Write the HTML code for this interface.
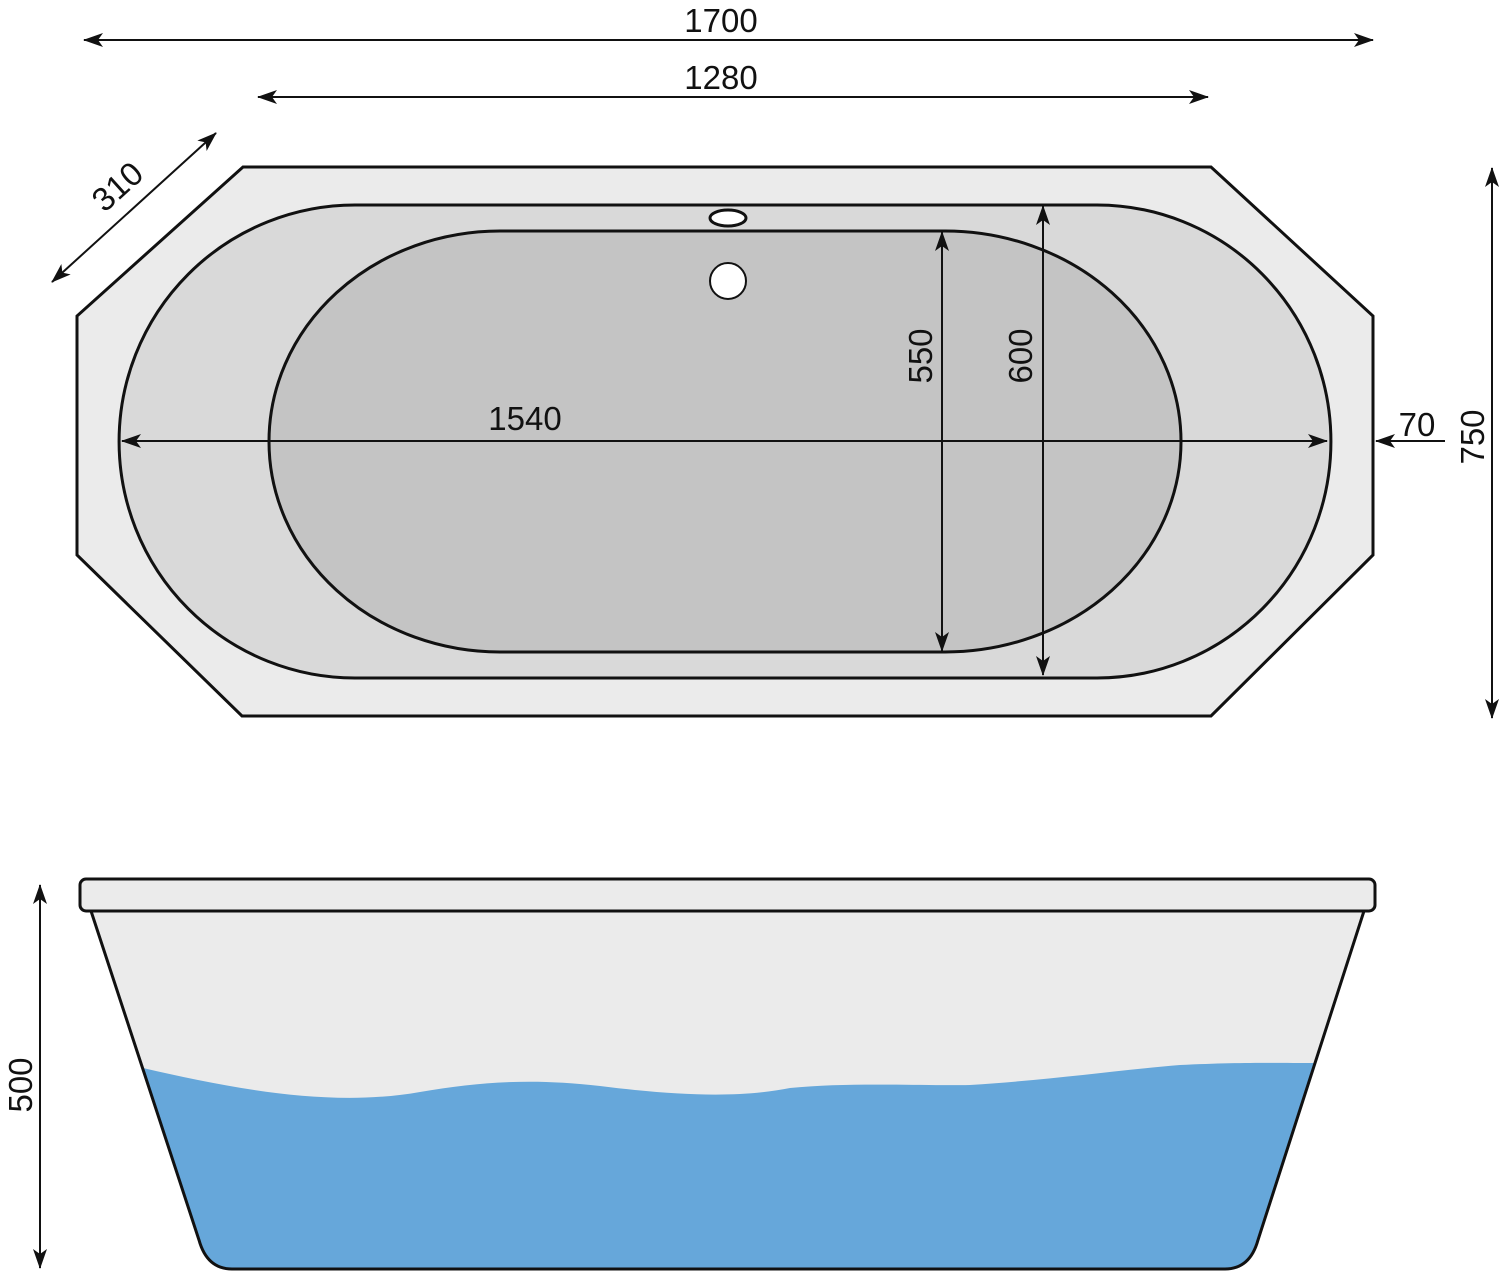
<!DOCTYPE html>
<html><head><style>html,body{margin:0;padding:0;background:#fff}svg{display:block}text{font-family:"Liberation Sans",sans-serif;font-size:33px;fill:#111}</style></head><body>
<svg width="1500" height="1271" viewBox="0 0 1500 1271" xmlns="http://www.w3.org/2000/svg">
<defs><marker id="a" viewBox="0 0 20 14" refX="19" refY="7" markerWidth="20" markerHeight="14" markerUnits="userSpaceOnUse" orient="auto-start-reverse"><path d="M0,0 L20,7 L0,14 L5,7 Z" fill="#111"/></marker></defs>
<g stroke="#111" stroke-width="3">
<polygon points="243,167 1211,167 1373,316 1373,555 1211,716 242,716 77,555 77,316" fill="#ebebeb"/>
<path d="M355,205 L1097,205 A234,236.5 0 0 1 1097,678 L355,678 A236,236.5 0 0 1 355,205 Z" fill="#d9d9d9"/>
<path d="M500,231 L945,231 A236,210.5 0 0 1 945,652 L500,652 A231,210.5 0 0 1 500,231 Z" fill="#c4c4c4"/>
<ellipse cx="728" cy="218" rx="18" ry="8" fill="#fff"/>
<circle cx="728" cy="281" r="18" fill="#fff" stroke-width="2"/>
</g>
<g stroke="#111" stroke-width="2" fill="none">
<line x1="84" y1="40" x2="1373" y2="40" marker-start="url(#a)" marker-end="url(#a)"/>
<line x1="258" y1="97" x2="1208" y2="97" marker-start="url(#a)" marker-end="url(#a)"/>
<line x1="52" y1="282" x2="216" y2="133" marker-start="url(#a)" marker-end="url(#a)"/>
<line x1="122" y1="441" x2="1327" y2="441" marker-start="url(#a)" marker-end="url(#a)"/>
<line x1="942" y1="232" x2="942" y2="651" marker-start="url(#a)" marker-end="url(#a)"/>
<line x1="1043" y1="206" x2="1043" y2="675" marker-start="url(#a)" marker-end="url(#a)"/>
<line x1="1492" y1="168" x2="1492" y2="718" marker-start="url(#a)" marker-end="url(#a)"/>
<line x1="1445" y1="441" x2="1376" y2="441" marker-end="url(#a)"/>
<line x1="40" y1="885" x2="40" y2="1268" marker-start="url(#a)" marker-end="url(#a)"/>
</g>
<text x="721" y="32" text-anchor="middle">1700</text>
<text x="721" y="89" text-anchor="middle">1280</text>
<text x="525" y="430" text-anchor="middle">1540</text>
<text x="1417" y="436" text-anchor="middle">70</text>
<text transform="translate(125,195) rotate(-42)" text-anchor="middle">310</text>
<text transform="translate(932,356) rotate(-90)" text-anchor="middle">550</text>
<text transform="translate(1032,356) rotate(-90)" text-anchor="middle">600</text>
<text transform="translate(1484,437) rotate(-90)" text-anchor="middle">750</text>
<text transform="translate(32,1085) rotate(-90)" text-anchor="middle">500</text>
<path d="M91,911 L1364,911 L1258,1240 Q1250,1269 1225,1269 L232,1269 Q207,1269 199,1240 Z" fill="#ebebeb"/>
<path d="M143,1068 C230,1088 330,1108 420,1092 C480,1082 530,1078 600,1086 C680,1096 740,1098 790,1088 C850,1082 920,1086 970,1085 C1050,1080 1120,1070 1180,1065 C1240,1062 1280,1063 1314,1063 L1258,1240 Q1250,1269 1225,1269 L232,1269 Q207,1269 199,1240 Z" fill="#66a7da"/>
<path d="M91,911 L1364,911 L1258,1240 Q1250,1269 1225,1269 L232,1269 Q207,1269 199,1240 Z" fill="none" stroke="#111" stroke-width="3"/>
<rect x="80" y="879" width="1295" height="32" rx="6" fill="#ebebeb" stroke="#111" stroke-width="3"/>
</svg>
</body></html>
